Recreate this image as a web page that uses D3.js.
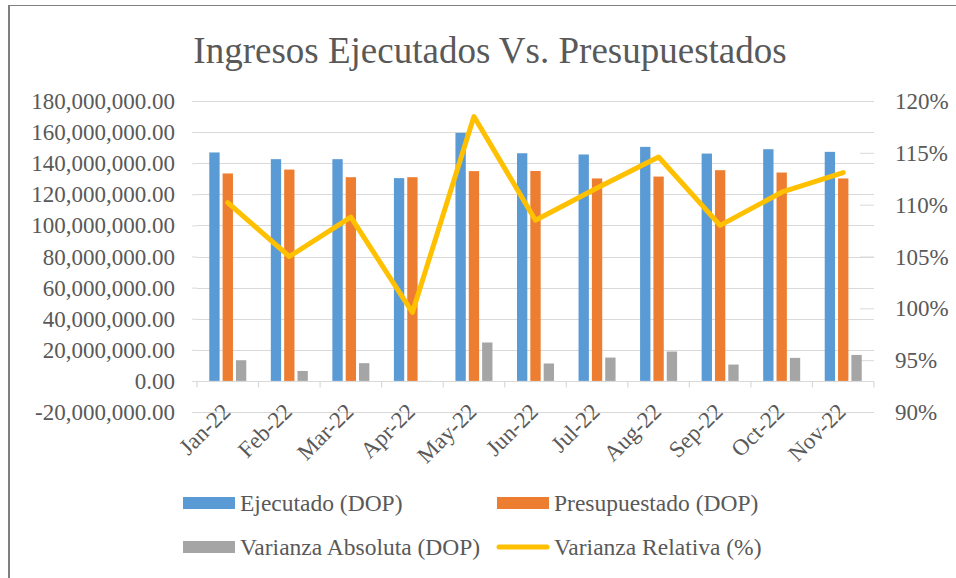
<!DOCTYPE html>
<html>
<head>
<meta charset="utf-8">
<script src="https://cdn.jsdelivr.net/npm/d3@7"></script>
<style>
	body { margin:0; background:#fff; }
</style>
</head>
<body>
<div id="chart"></div>
<script>
// data
var months        = ["Jan-22","Feb-22","Mar-22","Apr-22","May-22","Jun-22","Jul-22","Aug-22","Sep-22","Oct-22","Nov-22"];
var ejecutado     = [146.9e6,142.6e6,142.6e6,130.4e6,159.5e6,146.4e6,145.6e6,150.5e6,146.2e6,149.0e6,147.3e6];
var presupuestado = [133.4e6,135.9e6,131.0e6,131.0e6,134.9e6,135.0e6,130.2e6,131.4e6,135.5e6,134.0e6,130.2e6];
var varAbsoluta   = [13.3e6,6.4e6,11.4e6,-0.6e6,24.7e6,11.2e6,15.0e6,18.9e6,10.5e6,14.8e6,16.7e6];
var varRelativa   = [110.2,105.0,108.8,99.6,118.5,108.5,111.6,114.6,108.0,111.2,113.1];
var leftTicks     = [-20e6,0,20e6,40e6,60e6,80e6,100e6,120e6,140e6,160e6,180e6];
var rightTicks    = [90,95,100,105,110,115,120];
var seriesNames   = ["Ejecutado (DOP)","Presupuestado (DOP)","Varianza Absoluta (DOP)","Varianza Relativa (%)"];
var colors        = ["#5B9BD5","#ED7D31","#A5A5A5","#FFC000"];

var FONT = "'Liberation Serif', serif";
var W = 956, H = 578;
var plot = {left:197, right:874, top:101, bottom:412};
var fmt = d3.formatLocale({decimal:".", thousands:",", grouping:[3], currency:["",""], minus:"-"}).format(",.2f");

var svg = d3.select("#chart").append("svg")
			.attr("width", W)
			.attr("height", H);

// chart frame (only top and left edges are visible)
svg.append("line").attr("x1",9).attr("x2",W).attr("y1",5.5).attr("y2",5.5)
	.attr("stroke","#7f7f7f").attr("stroke-width",1);
svg.append("line").attr("x1",9).attr("x2",9).attr("y1",5).attr("y2",H)
	.attr("stroke","#7f7f7f").attr("stroke-width",2);

svg.append("text")
	.attr("x",490).attr("y",63)
	.attr("text-anchor","middle")
	.style("font-family",FONT)
	.style("font-size","37px")
	.style("fill","#595959")
	.text("Ingresos Ejecutados Vs. Presupuestados");

var x = d3.scaleBand().domain(months).range([plot.left, plot.right]).padding(0);
var x1 = d3.scaleBand().domain([0,1,2]).range([0, x.bandwidth()])
			.paddingInner(0.225).paddingOuter(0.92);
var yL = d3.scaleLinear().domain([-20e6,180e6]).range([plot.bottom, plot.top]);
var yR = d3.scaleLinear().domain([90,120]).range([plot.bottom, plot.top]);

// gridlines
svg.append("g").selectAll("line")
	.data(leftTicks)
	.enter().append("line")
	.attr("x1",plot.left).attr("x2",plot.right)
	.attr("y1",function(d){return Math.round(yL(d))+0.5})
	.attr("y2",function(d){return Math.round(yL(d))+0.5})
	.attr("stroke","#D9D9D9").attr("stroke-width",1.2);

// left axis
var gL = svg.append("g").attr("transform","translate("+plot.left+",0)")
			.call(d3.axisLeft(yL).tickValues(leftTicks).tickFormat(fmt).tickSize(5).tickPadding(17));
gL.select(".domain").remove();
gL.selectAll("line").attr("stroke","#D9D9D9");
gL.selectAll("text")
	.style("font-family",FONT).style("font-size","23px").style("fill","#595959")
	.attr("dy","0.33em");

// right axis
var gR = svg.append("g").attr("transform","translate("+plot.right+",0)")
			.call(d3.axisRight(yR).tickValues(rightTicks).tickFormat(function(d){return d+"%"}).tickSize(0).tickPadding(21));
gR.select(".domain").remove();
gR.selectAll("text")
	.style("font-family",FONT).style("font-size","23px").style("fill","#595959")
	.attr("dy","0.33em");
gR.selectAll(".tick").append("line")
	.attr("x1",-14).attr("x2",0).attr("stroke","#D9D9D9");

// bars
var barSeries = [ejecutado, presupuestado, varAbsoluta];
barSeries.forEach(function(vals, s)
{
	svg.append("g").selectAll("rect")
		.data(vals)
		.enter().append("rect")
		.attr("x",function(d,i){return x(months[i]) + x1(s)})
		.attr("width",x1.bandwidth())
		.attr("y",function(d){return Math.min(yL(d), yL(0))})
		.attr("height",function(d){return Math.abs(yL(d)-yL(0))})
		.attr("fill",colors[s]);
});

// category axis at zero
var zeroY = Math.round(yL(0))+0.5;
svg.append("line").attr("x1",plot.left).attr("x2",plot.right)
	.attr("y1",zeroY).attr("y2",zeroY)
	.attr("stroke","#D9D9D9").attr("stroke-width",1.2);
svg.append("g").selectAll("line")
	.data(d3.range(months.length+1))
	.enter().append("line")
	.attr("x1",function(i){return plot.left + i*x.bandwidth()})
	.attr("x2",function(i){return plot.left + i*x.bandwidth()})
	.attr("y1",zeroY).attr("y2",zeroY+6)
	.attr("stroke","#D9D9D9").attr("stroke-width",1.2);

// category labels
svg.append("g").selectAll("text")
	.data(months)
	.enter().append("text")
	.attr("text-anchor","end")
	.style("font-family",FONT).style("font-size","23px").style("fill","#595959")
	.attr("transform",function(d){return "translate("+(x(d)+x.bandwidth()/2+4)+","+(plot.bottom+1)+") rotate(-45)"})
	.text(function(d){return d});

// relative variance line
var line = d3.line()
			.x(function(d,i){return x(months[i]) + x.bandwidth()/2})
			.y(function(d){return yR(d)});
svg.append("path")
	.datum(varRelativa)
	.attr("d",line)
	.attr("fill","none")
	.attr("stroke",colors[3])
	.attr("stroke-width",5)
	.attr("stroke-linejoin","round")
	.attr("stroke-linecap","round");

// legend
var legendPos = [{x:183,y:503},{x:497,y:503},{x:183,y:547},{x:497,y:547}];
var lg = svg.append("g").selectAll("g")
			.data(seriesNames)
			.enter().append("g")
			.attr("transform",function(d,i){return "translate("+legendPos[i].x+","+legendPos[i].y+")"});
lg.each(function(d,i)
{
	var g = d3.select(this);
	if (i < 3)
		g.append("rect").attr("x",0).attr("y",-6).attr("width",52).attr("height",12).attr("fill",colors[i]);
	else
		g.append("line").attr("x1",2).attr("x2",50).attr("y1",0).attr("y2",0)
			.attr("stroke",colors[i]).attr("stroke-width",5).attr("stroke-linecap","round");
	g.append("text").attr("x",57).attr("y",0).attr("dy","0.33em")
		.style("font-family",FONT).style("font-size","23.5px").style("fill","#595959")
		.text(d);
});
</script>
</body>
</html>
